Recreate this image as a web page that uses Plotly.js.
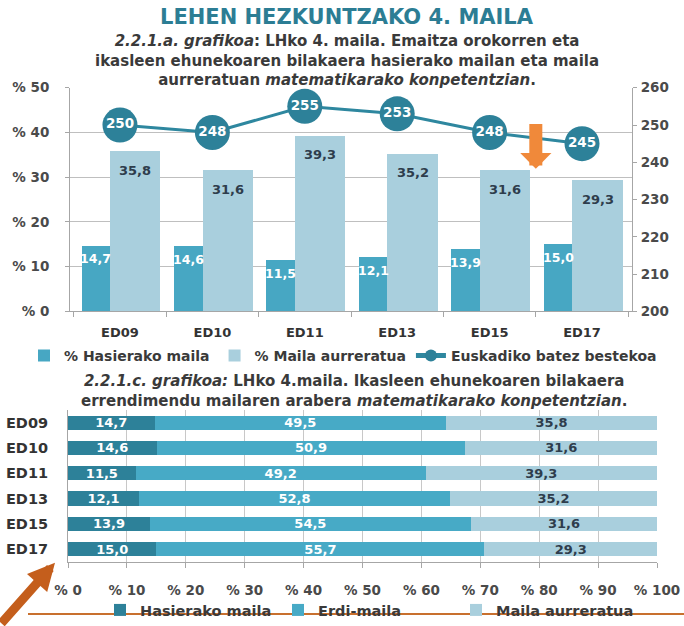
<!DOCTYPE html>
<html>
<head>
<meta charset="utf-8">
<script src="https://cdn.plot.ly/plotly-3.0.1.min.js"></script>
<style>html,body{margin:0;padding:0;background:#fff;}#chart{width:684px;height:626px;}</style>
</head>
<body>
<div id="chart"></div>
<script>
// ---- data ----
const categories = ['ED09', 'ED10', 'ED11', 'ED13', 'ED15', 'ED17'];
const hasierako = [14.7, 14.6, 11.5, 12.1, 13.9, 15.0];
const erdiMaila = [49.5, 50.9, 49.2, 52.8, 54.5, 55.7];
const aurreratua = [35.8, 31.6, 39.3, 35.2, 31.6, 29.3];
const batezBestekoa = [250, 248, 255, 253, 248, 245];

const FONT = 'DejaVu Sans, Verdana, sans-serif';
const fmt = v => v.toFixed(1).replace('.', ',');

// the lower chart is a 100 % stacked bar: each row is scaled to its own total
const rowTotal = categories.map((c, i) => hasierako[i] + erdiMaila[i] + aurreratua[i]);
const share = arr => arr.map((v, i) => v / rowTotal[i] * 100);

const cTopDark = '#47a7c3';
const cLight = '#a9cfdd';
const cDark = '#2d8199';
const cMid = '#47aac6';
const cLine = '#2e879f';
const cTextDark = '#2e3d4c';

const labelFont = (color, size) => ({ color: color, size: size || 13, family: FONT, weight: 'bold' });

function hBar(name, values, color, textColor) {
  return { type: 'bar', orientation: 'h', name: name, y: categories, x: share(values),
    xaxis: 'x2', yaxis: 'y3', width: 0.565, marker: { color: color },
    text: values.map(fmt), textposition: 'inside', insidetextanchor: 'middle',
    textfont: labelFont(textColor), constraintext: 'none', legend: 'legend2', hoverinfo: 'text' };
}

const traces = [
  { type: 'bar', name: '% Maila aurreratua', x: categories, y: aurreratua,
    xaxis: 'x', yaxis: 'y', width: 0.545, offset: -0.107,
    marker: { color: cLight }, legend: 'legend', legendrank: 2, hoverinfo: 'y' },
  { type: 'bar', name: '% Hasierako maila', x: categories, y: hasierako,
    xaxis: 'x', yaxis: 'y4', width: 0.31, offset: -0.416,
    marker: { color: cTopDark }, legend: 'legend', legendrank: 1, hoverinfo: 'y' },
  { type: 'scatter', mode: 'lines+markers+text', name: 'Euskadiko batez bestekoa',
    x: categories, y: batezBestekoa, xaxis: 'x', yaxis: 'y2',
    line: { color: cLine, width: 3 },
    marker: { color: cDark, size: 35 },
    text: batezBestekoa.map(String), textposition: 'middle center',
    textfont: labelFont('#ffffff', 13.5),
    legend: 'legend', legendrank: 3, hoverinfo: 'y' },
  hBar('Hasierako maila', hasierako, cDark, '#ffffff'),
  hBar('Erdi-maila', erdiMaila, cMid, '#ffffff'),
  hBar('Maila aurreratua', aurreratua, cLight, cTextDark)
];

// bar value labels for top chart (built from data)
const annotations = [];
categories.forEach((c, i) => {
  annotations.push({ xref: 'x', yref: 'y', x: c, y: hasierako[i], xshift: -24, yshift: -13,
    text: fmt(hasierako[i]), showarrow: false, yanchor: 'middle', font: labelFont('#ffffff', 12.5) });
  annotations.push({ xref: 'x', yref: 'y', x: c, y: aurreratua[i], xshift: 15.5, yshift: -19,
    text: fmt(aurreratua[i]), showarrow: false, yanchor: 'middle', font: labelFont(cTextDark) });
});

const txt = { family: FONT, size: 15, color: '#3a3a3a', weight: 'bold' };
function titleBlock(text, xpx, ypx, font) {
  return { xref: 'paper', yref: 'paper', x: xpx / 684, y: 1 - ypx / 626, xanchor: 'center', yanchor: 'middle',
    text: text, showarrow: false, font: font || txt, align: 'center' };
}
annotations.push(titleBlock('LEHEN HEZKUNTZAKO 4. MAILA', 347, 17, { family: FONT, size: 21, color: '#2c7d94', weight: 'bold' }));
annotations.push(titleBlock('<i>2.2.1.a. grafikoa</i>: LHko 4. maila. Emaitza orokorren eta<br>' +
  'ikasleen ehunekoaren bilakaera hasierako mailan eta maila<br>' +
  'aurreratuan <i>matematikarako konpetentzian</i>.', 347, 61));
annotations.push(titleBlock('<i>2.2.1.c. grafikoa:</i> LHko 4.maila. Ikasleen ehunekoaren bilakaera<br>' +
  'errendimendu mailaren arabera <i>matematikarako konpetentzian</i>.', 354, 397));

// orange arrows
annotations.push({ xref: 'x', yref: 'y', x: 4.5, y: 31.9, axref: 'x', ayref: 'y', ax: 4.5, ay: 42.2,
  showarrow: true, arrowhead: 1, arrowwidth: 13, arrowsize: 0.4, arrowcolor: '#f0893a', text: '' });
annotations.push({ xref: 'paper', yref: 'paper', x: 55 / 684, y: 1 - 571 / 626, ax: -62, ay: 62,
  showarrow: true, arrowhead: 2, arrowwidth: 9, arrowsize: 0.6, arrowcolor: '#c45e1c', text: '' });

const axisLine = '#a6a6a6';
const tickFont = { family: FONT, size: 13.5, color: '#4a4a4a', weight: 'bold' };

const layout = {
  width: 684, height: 626,
  margin: { l: 0, r: 0, t: 0, b: 0 },
  paper_bgcolor: '#ffffff', plot_bgcolor: '#ffffff',
  barmode: 'stack',
  separators: ', ',
  font: { family: FONT, color: '#404040' },
  showlegend: true,
  xaxis: { domain: [70 / 684, 632 / 684], anchor: 'y', type: 'category', categoryarray: categories,
    showline: true, linecolor: axisLine, ticks: 'outside', tickson: 'boundaries', ticklen: 5,
    tickcolor: axisLine, showgrid: false, tickfont: labelFont('#333333', 13), automargin: false,
    ticklabelstandoff: 9, fixedrange: true },
  yaxis: { domain: [1 - 316 / 626, 1 - 89 / 626], anchor: 'x', range: [0, 50], dtick: 10, tickprefix: '% ',
    showgrid: true, gridcolor: '#bfbfbf', showline: true, linecolor: axisLine, ticks: 'outside', ticklen: 4,
    tickcolor: axisLine, zeroline: false, tickfont: tickFont, ticklabelstandoff: 13, automargin: false, fixedrange: true },
  yaxis2: { overlaying: 'y', side: 'right', anchor: 'x', range: [200, 260], dtick: 10, showgrid: false,
    showline: true, linecolor: axisLine, ticks: 'outside', ticklen: 4, tickcolor: axisLine, zeroline: false,
    tickfont: tickFont, ticklabelstandoff: 1, automargin: false, fixedrange: true },
  yaxis4: { overlaying: 'y', anchor: 'x', range: [0, 50], visible: false, fixedrange: true },
  xaxis2: { domain: [68 / 684, 657 / 684], anchor: 'y3', range: [0, 100], dtick: 10, tickprefix: '% ',
    showgrid: true, gridcolor: '#c8c8c8', showline: true, linecolor: axisLine, ticks: 'outside', ticklen: 5,
    tickcolor: axisLine, zeroline: false, tickfont: tickFont, ticklabelstandoff: 11, automargin: false, fixedrange: true },
  yaxis3: { domain: [1 - 570 / 626, 1 - 416 / 626], anchor: 'x2', type: 'category', categoryarray: categories,
    autorange: 'reversed', showline: true, linecolor: axisLine, ticks: '', showgrid: false,
    tickfont: labelFont('#333333', 14.5), ticklabelstandoff: 16, automargin: false, fixedrange: true },
  legend: { orientation: 'h', x: 24 / 684, xanchor: 'left', y: 1 - 361 / 626, yanchor: 'middle',
    font: { family: FONT, size: 14, color: '#3a3a3a', weight: 'bold' }, itemsizing: 'constant',
    bgcolor: 'rgba(0,0,0,0)', traceorder: 'normal' },
  legend2: { orientation: 'h', x: 100 / 684, xanchor: 'left', y: 1 - 619 / 626, yanchor: 'middle',
    entrywidth: 133, entrywidthmode: 'pixels',
    font: { family: FONT, size: 14.5, color: '#3a3a3a', weight: 'bold' },
    bgcolor: 'rgba(0,0,0,0)', traceorder: 'normal' },
  annotations: annotations,
  shapes: [
    { type: 'line', xref: 'paper', yref: 'paper', x0: 28 / 684, x1: 1, y0: 1 - 623 / 626, y1: 1 - 623 / 626,
      line: { color: '#c8702e', width: 2 } }
  ]
};

Plotly.newPlot('chart', traces, layout, { displayModeBar: false, staticPlot: true });
</script>
</body>
</html>
